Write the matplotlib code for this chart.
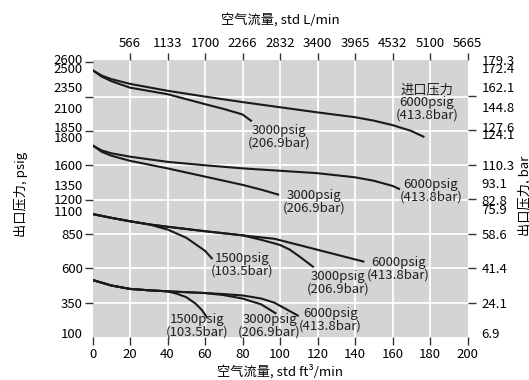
import matplotlib.pyplot as plt

plt.rcParams['font.family'] = ['Noto Sans CJK SC', 'DejaVu Sans']
plt.rcParams['font.size'] = 9.5

# flow axes
flow_ft3 = [0, 20, 40, 60, 80, 100, 120, 140, 160, 180, 200]
flow_lmin_at = [20, 40, 60, 80, 100, 120, 140, 160, 180, 200]
flow_lmin = ['566', '1133', '1700', '2266', '2832', '3400', '3965', '4532', '5100', '5665']

# outlet pressure labels (chart is a stack of bands, y is in band units 0..8)
psig_labels = ['2600', '2500', '2350', '2100', '1850', '1800', '1600', '1350',
               '1200', '1100', '850', '600', '350', '100']
psig_at = [8.08, 7.82, 7.28, 6.67, 6.12, 5.82, 5.0, 4.43, 4.03, 3.68, 3.0, 2.0, 1.0, 0.11]
bar_labels = ['179.3', '172.4', '162.1', '144.8', '127.6', '124.1', '110.3', '93.1',
              '82.8', '75.9', '58.6', '41.4', '24.1', '6.9']
bar_at = [8.05, 7.81, 7.26, 6.67, 6.1, 5.88, 4.99, 4.48, 3.98, 3.72, 3.0, 2.0, 1.0, 0.11]
left_marks = [8, 7, 6, 5, 4, 3, 2, 1]
right_marks = [7, 6, 5, 4, 3, 2, 1]

# curves: (flow ft3/min, band units)
g1_6000_x = [0, 5, 10, 20, 40, 60, 80, 100, 120, 140, 150, 160, 170, 177]
g1_6000_y = [7.77, 7.61, 7.51, 7.37, 7.17, 7.0, 6.84, 6.69, 6.54, 6.4, 6.3, 6.17, 6.0, 5.82]
g1_3000_x = [0, 5, 10, 20, 40, 60, 70, 80, 85]
g1_3000_y = [7.77, 7.58, 7.45, 7.26, 7.07, 6.78, 6.64, 6.48, 6.28]

g2_6000_x = [0, 5, 10, 20, 40, 60, 80, 100, 120, 140, 150, 160, 164]
g2_6000_y = [5.58, 5.43, 5.35, 5.25, 5.1, 5.0, 4.91, 4.84, 4.77, 4.65, 4.55, 4.4, 4.3]
g2_3000_x = [0, 5, 10, 20, 40, 60, 80, 90, 99.5]
g2_3000_y = [5.58, 5.39, 5.28, 5.13, 4.91, 4.67, 4.43, 4.29, 4.14]

g3_6000_x = [0, 10, 20, 30, 40, 60, 80, 90, 97, 110, 120, 130, 140, 145]
g3_6000_y = [3.58, 3.47, 3.37, 3.28, 3.21, 3.08, 2.96, 2.9, 2.86, 2.68, 2.54, 2.4, 2.26, 2.19]
g3_3000_x = [0, 10, 20, 30, 40, 60, 80, 90, 100, 105, 110, 118]
g3_3000_y = [3.58, 3.47, 3.37, 3.28, 3.21, 3.08, 2.96, 2.83, 2.68, 2.55, 2.36, 2.03]
g3_1500_x = [0, 10, 20, 30, 40, 50, 60, 64]
g3_1500_y = [3.58, 3.47, 3.37, 3.28, 3.13, 2.89, 2.51, 2.27]

g4_6000_x = [0, 10, 20, 30, 40, 60, 70, 80, 90, 97, 110]
g4_6000_y = [1.66, 1.5, 1.4, 1.36, 1.33, 1.28, 1.25, 1.21, 1.12, 1.0, 0.61]
g4_3000_x = [0, 10, 20, 30, 40, 60, 70, 80, 90, 98]
g4_3000_y = [1.66, 1.5, 1.4, 1.36, 1.33, 1.28, 1.22, 1.12, 0.95, 0.68]
g4_1500_x = [0, 10, 20, 30, 40, 45, 50, 55, 58.4, 61.2]
g4_1500_y = [1.66, 1.5, 1.4, 1.36, 1.33, 1.26, 1.16, 0.97, 0.78, 0.56]

curves = [(g1_6000_x, g1_6000_y), (g1_3000_x, g1_3000_y),
          (g2_6000_x, g2_6000_y), (g2_3000_x, g2_3000_y),
          (g3_6000_x, g3_6000_y), (g3_3000_x, g3_3000_y), (g3_1500_x, g3_1500_y),
          (g4_6000_x, g4_6000_y), (g4_3000_x, g4_3000_y), (g4_1500_x, g4_1500_y)]

notes = ['进口压力\n6000psig\n(413.8bar)', '3000psig\n(206.9bar)',
         '6000psig\n(413.8bar)', '3000psig\n(206.9bar)',
         '6000psig\n(413.8bar)', '3000psig\n(206.9bar)', '1500psig\n(103.5bar)',
         '6000psig\n(413.8bar)', '3000psig\n(206.9bar)', '1500psig\n(103.5bar)']
notes_x = [178.4, 99.7, 180.4, 118, 163.1, 131.1, 79.9, 127, 94.4, 55.6]
notes_y = [6.83, 5.82, 4.27, 3.95, 2.0, 1.58, 2.11, 0.5, 0.32, 0.32]

W, H = 529, 380
fig = plt.figure(figsize=(W / 100, H / 100), dpi=100)
ax = fig.add_axes([92.5 / W, 1 - 337 / H, 375 / W, 277.5 / H])
ax.set_facecolor('#d3d4d6')
ax.set_xlim(0, 200)
ax.set_ylim(0, 8)
for s in ax.spines.values():
    s.set_visible(False)

for gx in flow_lmin_at[:-1]:
    ax.axvline(gx, color='white', lw=1.3, zorder=1)
for gy in range(1, 8):
    ax.axhline(gy, color='white', lw=1.3, zorder=1)

for xs, ys in curves:
    ax.plot(xs, ys, color='#1a1a1a', lw=1.5, solid_capstyle='butt', zorder=3)

for t, x, y in zip(notes, notes_x, notes_y):
    ax.text(x, y, t, ha='center', va='center', fontsize=9.5, color='#231f20',
            linespacing=0.95, zorder=4)

tick_color = '#333333'

# bottom axis
ax.set_xticks(flow_ft3)
ax.set_xticklabels([str(v) for v in flow_ft3])
ax.tick_params(axis='x', length=6, width=1, color=tick_color, pad=2, labelsize=9.5)
ax.xaxis.get_major_ticks()[0].tick1line.set_visible(False)
ax.set_xlabel('空气流量, std ft³/min', fontsize=9.5)
ax.xaxis.set_label_coords(0.5, -0.1)

# left axis
ax.yaxis.remove_overlapping_locs = False
ax.set_yticks(left_marks)
ax.set_yticklabels([])
ax.set_yticks(psig_at, minor=True)
ax.set_yticklabels(psig_labels, minor=True)
ax.tick_params(axis='y', which='major', length=6, width=1, color=tick_color)
ax.tick_params(axis='y', which='minor', length=0, pad=7, labelsize=9.5)
ax.set_ylabel('出口压力, psig', fontsize=9.5)
ax.yaxis.set_label_coords(-0.172, 0.515)

# top axis
ax_top = ax.twiny()
ax_top.set_xlim(0, 200)
for s in ax_top.spines.values():
    s.set_visible(False)
ax_top.set_xticks(flow_lmin_at)
ax_top.set_xticklabels(flow_lmin)
ax_top.tick_params(axis='x', length=5, width=1, color=tick_color, pad=2, labelsize=9.5)
ax_top.set_xlabel('空气流量, std L/min', fontsize=9.5)
ax_top.xaxis.set_label_coords(0.5, 1.13)

# right axis
ax_r = ax.twinx()
ax_r.set_ylim(0, 8)
for s in ax_r.spines.values():
    s.set_visible(False)
ax_r.yaxis.remove_overlapping_locs = False
ax_r.set_yticks(right_marks)
ax_r.set_yticklabels([])
ax_r.set_yticks(bar_at, minor=True)
ax_r.set_yticklabels(bar_labels, minor=True)
ax_r.tick_params(axis='y', which='major', length=6, width=1, color=tick_color)
ax_r.tick_params(axis='y', which='minor', length=0, pad=10, labelsize=9.5)
ax_r.set_ylabel('出口压力, bar', fontsize=9.5)
ax_r.yaxis.set_label_coords(1.135, 0.508)

fig.savefig('out.png', dpi=100)
